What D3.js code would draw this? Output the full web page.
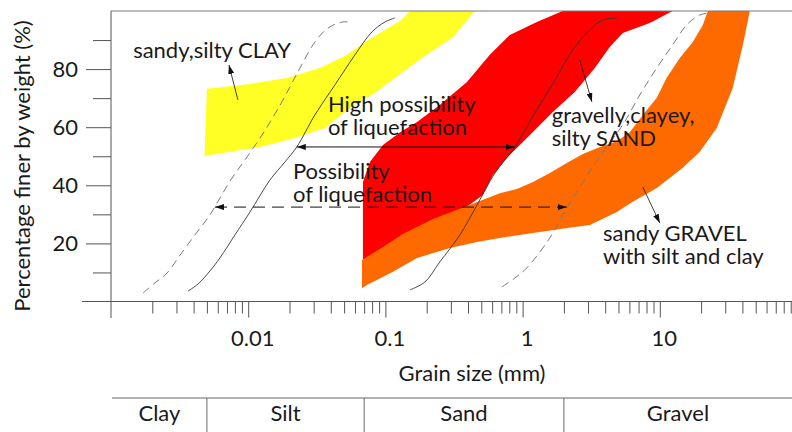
<!DOCTYPE html>
<html>
<head>
<meta charset="utf-8">
<script src="https://d3js.org/d3.v7.min.js"></script>
<style>
  body { margin: 0; background: #fff; }
  svg { display: block; font-family: Lato, "Open Sans", sans-serif; }
</style>
</head>
<body>
<main></main>
<script>
// grain size (mm) / percent finer
const clayUpper = [[0.0050,73.2],[0.0103,74.9],[0.0191,76.9],[0.0333,80.4],[0.0507,84.5],[0.0710,89.3],[0.0991,93.5],[0.128,96.6],[0.151,100]];
const clayLower = [[0.0048,50.1],[0.0122,53.2],[0.0219,56.3],[0.0362,59.7],[0.0551,66.6],[0.0837,71.8],[0.128,78.3],[0.200,84.9],[0.310,91.0],[0.449,100]];

const sandUpper = [[0.0686,41.1],[0.0771,48.0],[0.096,53.9],[0.128,58.3],[0.170,61.8],[0.249,67.6],[0.393,75.6],[0.577,84.9],[0.807,91.7],[1.27,96.2],[1.96,100],[12.4,100]];
const sandLower = [[0.0686,11.5],[0.0837,13.6],[0.128,17.7],[0.211,23.9],[0.349,30.8],[0.513,36.7],[0.607,43.5],[0.767,49.4],[1.13,57.3],[1.66,65.2],[2.40,72.1],[3.36,80.4],[4.32,87.6],[5.37,92.4],[8.45,95.9],[12.4,100]];

const gravelUpper = [[0.0675,14.3],[0.096,18.8],[0.134,23.2],[0.222,28.4],[0.393,32.9],[0.682,37.3],[0.908,38.7],[1.19,41.1],[1.58,44.2],[2.10,47.7],[2.75,50.8],[3.66,53.2],[4.86,55.2],[6.04,58.3],[7.52,64.2],[9.51,70.1],[11.2,76.9],[14.0,83.8],[17.4,89.3],[20.6,95.2],[22.4,100],[45.3,100]];
const gravelLower = [[0.0675,4.6],[0.0733,5.7],[0.1135,10.2],[0.170,15.0],[0.295,18.4],[0.465,20.5],[0.682,21.9],[1.19,23.6],[2.10,25.3],[3.09,26.3],[4.86,30.8],[6.35,34.3],[9.51,39.1],[14.7,46.0],[19.5,51.5],[26.0,59.7],[34.0,73.5],[40.3,88.3],[45.3,100]];

// liquefaction boundary curves
const fineDashed = [[0.00171,2.9],[0.00209,6.4],[0.00256,9.8],[0.00319,16.0],[0.00409,22.9],[0.00526,29.8],[0.00622,35.6],[0.00762,42.5],[0.00946,48.7],[0.0126,57.3],[0.0176,68.7],[0.0230,79.0],[0.0306,89.3],[0.0381,94.1],[0.0482,96.2],[0.0551,96.2]];
const fineSolid = [[0.00364,3.6],[0.00431,6.0],[0.00526,10.5],[0.00622,15.0],[0.0080,22.9],[0.0103,30.8],[0.0144,41.8],[0.0185,48.0],[0.0226,53.2],[0.0306,64.2],[0.0428,74.5],[0.0600,84.9],[0.0798,92.8],[0.0991,96.2],[0.117,97.6]];
const coarseSolid = [[0.151,4.0],[0.194,6.7],[0.249,13.6],[0.349,22.9],[0.465,33.2],[0.628,44.2],[0.879,53.2],[1.23,64.9],[1.72,76.2],[2.32,86.6],[3.09,93.5],[3.85,96.9],[4.86,97.6]];
const coarseDashed = [[0.706,5.0],[0.879,8.1],[1.07,11.5],[1.58,21.9],[2.10,32.2],[2.75,41.1],[3.85,51.5],[5.37,60.8],[7.15,71.1],[9.51,80.4],[12.4,88.3],[15.7,95.2],[19.5,98.6],[23.1,99.3]];

// range arrows between the curves
const rangeArrows = [
  {from: 0.0226, to: 0.879, pct: 53.2, dashed: false},
  {from: 0.00573, to: 2.10, pct: 32.5, dashed: true}
];
// leader arrows from the labels
const leaders = [
  [[0.00841,69.4],[0.00724,81.4]],
  [[2.61,83.1],[3.20,68.7]],
  [[7.52,39.4],[10.0,27.0]]
];
const notes = [
  {lines: ["sandy,silty CLAY"], at: [0.00145,83.8]},
  {lines: ["High possibility","of liquefaction"], at: [0.0381,65.2]},
  {lines: ["Possibility","of liquefaction"], at: [0.0212,42.2]},
  {lines: ["gravelly,clayey,","silty SAND"], at: [1.63,61.4]},
  {lines: ["sandy GRAVEL","with silt and clay"], at: [3.85,20.8]}
];

const xMajor = [0.01, 0.1, 1, 10];
const xMajorLabels = ["0.01", "0.1", "1", "10"];
const yMajor = [20, 40, 60, 80];
const yMinor = [10, 30, 50, 70, 90];

const soilNames = ["Clay", "Silt", "Sand", "Gravel"];
const soilBounds = [0.005, 0.07, 2];

var width = 792, height = 432;
var pLeft = 111, pRight = 792, pTop = 11, pBottom = 301.5;

var x = d3.scaleLog().domain([0.001, 100]).range([pLeft, 797]);
var y = d3.scaleLinear().domain([0, 100]).range([pBottom, pTop]);

var svg = d3.select("main")
  .append("svg")
  .attr("width", width)
  .attr("height", height);

var defs = svg.append("defs");
defs.append("clipPath").attr("id", "plot")
  .append("rect")
  .attr("x", pLeft).attr("y", pTop)
  .attr("width", pRight - pLeft).attr("height", pBottom - pTop);
defs.append("marker")
  .attr("id", "head")
  .attr("viewBox", "0 0 9 6")
  .attr("refX", 9).attr("refY", 3)
  .attr("markerWidth", 9).attr("markerHeight", 6)
  .attr("markerUnits", "userSpaceOnUse")
  .attr("orient", "auto-start-reverse")
  .append("path")
  .attr("d", "M0,0L9,3L0,6z")
  .attr("fill", "#111");

//bands
var area = d3.line().x(d => x(d[0])).y(d => y(d[1]));
var bands = [
  {upper: clayUpper, lower: clayLower, color: "#ffff26"},
  {upper: sandUpper, lower: sandLower, color: "#ff0000"},
  {upper: gravelUpper, lower: gravelLower, color: "#ff6a00"}
];
svg.append("g")
  .attr("clip-path", "url(#plot)")
  .selectAll("path")
  .data(bands)
  .enter()
  .append("path")
  .attr("d", d => area(d.upper.concat(d.lower.slice().reverse())) + "Z")
  .attr("fill", d => d.color);

//curves
var curve = d3.line().x(d => x(d[0])).y(d => y(d[1])).curve(d3.curveCatmullRom);
var curves = [
  {pts: fineDashed, dash: "8,5", color: "#7a7a7a", w: 1},
  {pts: coarseDashed, dash: "8,5", color: "#7a7a7a", w: 1},
  {pts: fineSolid, dash: null, color: "#333", w: 0.9},
  {pts: coarseSolid, dash: null, color: "#333", w: 0.9}
];
svg.append("g")
  .selectAll("path")
  .data(curves)
  .enter()
  .append("path")
  .attr("d", d => curve(d.pts))
  .attr("fill", "none")
  .attr("stroke", d => d.color)
  .attr("stroke-width", d => d.w)
  .attr("stroke-dasharray", d => d.dash);

//arrows
svg.append("g")
  .selectAll("line")
  .data(rangeArrows)
  .enter()
  .append("line")
  .attr("x1", d => x(d.from)).attr("x2", d => x(d.to))
  .attr("y1", d => y(d.pct)).attr("y2", d => y(d.pct))
  .attr("stroke", "#111")
  .attr("stroke-width", 1)
  .attr("stroke-dasharray", d => d.dashed ? "12,7" : null)
  .attr("marker-start", "url(#head)")
  .attr("marker-end", "url(#head)");

svg.append("g")
  .selectAll("line")
  .data(leaders)
  .enter()
  .append("line")
  .attr("x1", d => x(d[0][0])).attr("y1", d => y(d[0][1]))
  .attr("x2", d => x(d[1][0])).attr("y2", d => y(d[1][1]))
  .attr("stroke", "#111")
  .attr("stroke-width", 0.8)
  .attr("marker-end", "url(#head)");

//labels
var note = svg.append("g")
  .selectAll("text")
  .data(notes)
  .enter()
  .append("text")
  .attr("x", d => x(d.at[0]))
  .attr("y", d => y(d.at[1]))
  .attr("font-size", 22)
  .attr("fill", "#1a1a1a");
note.selectAll("tspan")
  .data(d => d.lines.map(t => ({t: t, x: x(d.at[0])})))
  .enter()
  .append("tspan")
  .attr("x", d => d.x)
  .attr("dy", (d, i) => i ? 23 : 0)
  .text(d => d.t);

//frame
svg.append("line")
  .attr("x1", pLeft).attr("x2", pRight)
  .attr("y1", pTop).attr("y2", pTop)
  .attr("stroke", "#777");
svg.append("line")
  .attr("x1", 82).attr("x2", pRight)
  .attr("y1", pBottom).attr("y2", pBottom)
  .attr("stroke", "#555");
svg.append("line")
  .attr("x1", pLeft).attr("x2", pLeft)
  .attr("y1", pTop).attr("y2", 318)
  .attr("stroke", "#555");

//x axis
var minor = x.ticks().filter(v => xMajor.indexOf(v) < 0 && v > 0.001);
svg.append("g")
  .attr("transform", "translate(0," + pBottom + ")")
  .call(d3.axisBottom(x).tickValues(minor).tickSize(12).tickFormat(""))
  .call(g => g.select(".domain").remove());
var xa = svg.append("g")
  .attr("transform", "translate(0," + pBottom + ")")
  .call(d3.axisBottom(x).tickValues(xMajor).tickSize(16).tickPadding(13)
    .tickFormat((d, i) => xMajorLabels[i]));
xa.select(".domain").remove();
xa.selectAll("text")
  .attr("font-size", 22)
  .attr("font-family", "Lato")
  .attr("fill", "#1a1a1a")
  .attr("dx", 4);

//y axis
svg.append("g")
  .attr("transform", "translate(" + pLeft + ",0)")
  .call(d3.axisLeft(y).tickValues(yMinor).tickSize(18).tickFormat(""))
  .call(g => g.select(".domain").remove());
var ya = svg.append("g")
  .attr("transform", "translate(" + pLeft + ",0)")
  .call(d3.axisLeft(y).tickValues(yMajor).tickSize(25).tickPadding(8));
ya.select(".domain").remove();
ya.selectAll("text")
  .attr("font-size", 22)
  .attr("font-family", "Lato")
  .attr("fill", "#1a1a1a");
svg.selectAll(".tick line").attr("stroke", "#555");

//axis titles
svg.append("text")
  .attr("x", 472).attr("y", 381)
  .attr("text-anchor", "middle")
  .attr("font-size", 22)
  .attr("fill", "#1a1a1a")
  .text("Grain size (mm)");
svg.append("text")
  .attr("transform", "translate(30,166) rotate(-90)")
  .attr("text-anchor", "middle")
  .attr("font-size", 22)
  .attr("fill", "#1a1a1a")
  .text("Percentage finer by weight (%)");

//soil class table
var edges = [x.invert(112)].concat(soilBounds, [x.invert(pRight)]);
svg.append("line")
  .attr("x1", 112).attr("x2", pRight)
  .attr("y1", 398).attr("y2", 398)
  .attr("stroke", "#666");
svg.append("g")
  .selectAll("line")
  .data(soilBounds)
  .enter()
  .append("line")
  .attr("x1", d => x(d)).attr("x2", d => x(d))
  .attr("y1", 398).attr("y2", height)
  .attr("stroke", "#666");
svg.append("g")
  .selectAll("text")
  .data(soilNames)
  .enter()
  .append("text")
  .attr("x", (d, i) => (x(edges[i]) + x(edges[i + 1])) / 2)
  .attr("y", 421)
  .attr("text-anchor", "middle")
  .attr("font-size", 22)
  .attr("fill", "#1a1a1a")
  .text(d => d);
</script>
</body>
</html>
